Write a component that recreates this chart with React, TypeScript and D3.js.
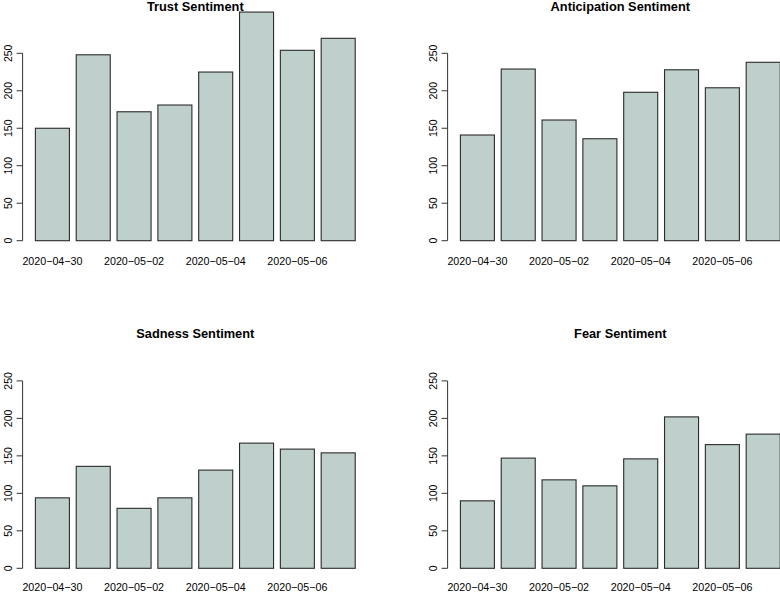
import React from "react";
import * as d3 from "d3";

const dates = ["2020-04-30", "2020-05-01", "2020-05-02", "2020-05-03", "2020-05-04", "2020-05-05", "2020-05-06", "2020-05-07"];
const shownLabels = ["2020-04-30", "2020-05-02", "2020-05-04", "2020-05-06"];
const yTicks = [0, 50, 100, 150, 200, 250];

const trust = [150, 248, 172, 181, 225, 305, 254, 270];
const anticipation = [141, 229, 161, 136, 198, 228, 204, 238];
const sadness = [94, 136, 80, 94, 131, 167, 159, 154];
const fear = [90, 147, 118, 110, 146, 202, 165, 179];

const panels = [
  { title: "Trust Sentiment", values: trust, col: 0, row: 0 },
  { title: "Anticipation Sentiment", values: anticipation, col: 1, row: 0 },
  { title: "Sadness Sentiment", values: sadness, col: 0, row: 1 },
  { title: "Fear Sentiment", values: fear, col: 1, row: 1 },
];

const W = 780;
const H = 592;
const colOffset = 425;
const rowOffset = 327.6;
const plotLeft = 22.6;
const plotWidth = 345.4;
const y0 = 240.7;
const y250 = 53.3;
const font = "'Liberation Sans', Arial, Helvetica, sans-serif";
const barFill = "#bfcfcb";

function Panel({ title, values, col, row }: { title: string; values: number[]; col: number; row: number }) {
  const ox = col * colOffset;
  const oy = row * rowOffset;
  const n = values.length;
  const space = 0.2;
  const xMin = space;
  const xMax = n * (1 + space);
  const ext = (xMax - xMin) * 0.04;
  const x = d3.scaleLinear().domain([xMin - ext, xMax + ext]).range([plotLeft, plotLeft + plotWidth]);
  const y = d3.scaleLinear().domain([0, 250]).range([y0, y250]);
  const axisX = x(xMin - ext);
  const labelY = row === 0 ? 265 : 263.6;
  return (
    <g transform={`translate(${ox},${oy})`}>
      <text x={x((xMin + xMax) / 2)} y={10.7} textAnchor="middle" fontFamily={font} fontWeight="bold" fontSize={12.8} fill="#000">
        {title}
      </text>
      {values.map((v, i) => {
        const l = i * (1 + space) + space;
        const r = l + 1;
        return (
          <rect
            key={i}
            x={x(l)}
            y={y(v)}
            width={x(r) - x(l)}
            height={y(0) - y(v)}
            fill={barFill}
            stroke="#2b2b2b"
            strokeWidth={1.1}
          />
        );
      })}
      <line x1={axisX} x2={axisX} y1={y(0)} y2={y(250)} stroke="#333" strokeWidth={1} />
      {yTicks.map((t) => (
        <g key={t}>
          <line x1={axisX - 6} x2={axisX} y1={y(t)} y2={y(t)} stroke="#333" strokeWidth={1} />
          <text
            transform={`translate(${axisX - 11},${y(t)}) rotate(-90)`}
            textAnchor="middle"
            fontFamily={font}
            fontSize={10.5}
            fill="#000"
          >
            {t}
          </text>
        </g>
      ))}
      {dates.map((d, i) =>
        shownLabels.includes(d) ? (
          <text key={d} x={x(i * (1 + space) + space + 0.5)} y={labelY} textAnchor="middle" fontFamily={font} fontSize={10.7} fill="#000">
            {d.replace(/-/g, "\u2212")}
          </text>
        ) : null
      )}
    </g>
  );
}

export default function App() {
  return (
    <svg width={W} height={H} style={{ position: "absolute", left: 0, top: 0, background: "#fff" }}>
      <rect x={0} y={0} width={W} height={H} fill="#fff" />
      {panels.map((p) => (
        <Panel key={p.title} {...p} />
      ))}
    </svg>
  );
}
